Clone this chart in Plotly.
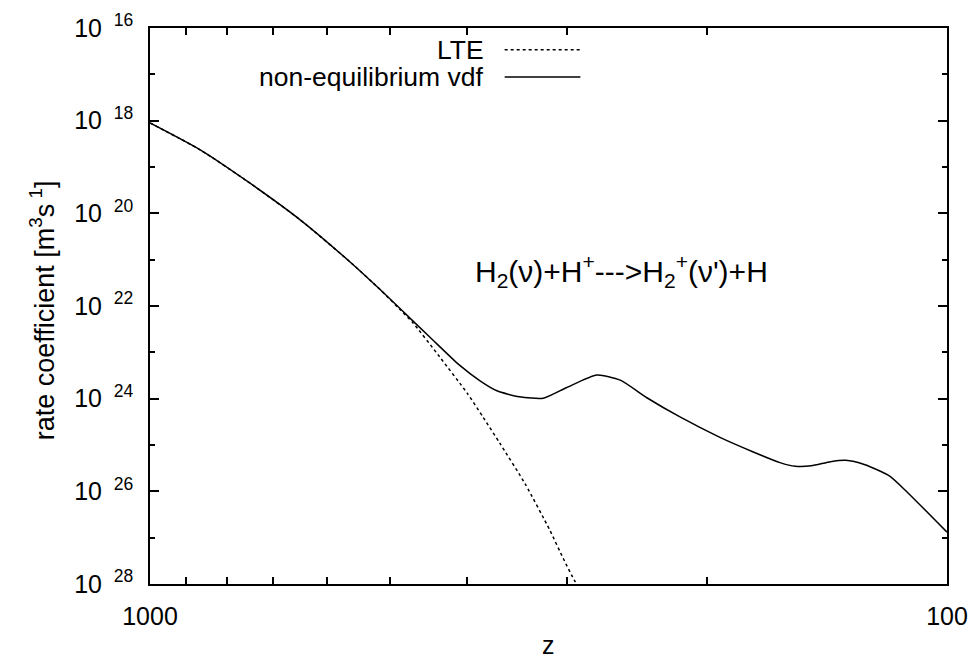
import plotly.graph_objects as go

# ---- data ----
z_noneq = [1000, 865, 749, 648, 561, 514, 486, 445, 410, 385, 367, 344,
           321, 300, 275, 257, 238, 216, 193, 175, 162, 155, 148, 140, 134, 127, 118, 112, 100]
log_noneq = [-18.05, -18.63, -19.35, -20.14, -21.05, -21.65, -22.05, -22.68, -23.26, -23.62,
             -23.83, -23.96, -23.99, -23.76, -23.49, -23.60, -23.98,
             -24.40, -24.83, -25.15, -25.38, -25.46, -25.45, -25.36, -25.33, -25.42, -25.67,
             -26.03, -26.88]

z_lte = [1000, 865, 749, 648, 561, 514, 486, 468, 433, 400, 382, 364, 338, 315, 303, 293, 291]
log_lte = [-18.05, -18.63, -19.35, -20.14, -21.05, -21.65, -22.07, -22.36, -23.10, -23.88,
           -24.40, -24.96, -25.85, -26.84, -27.45, -27.94, -28.0]

y_major = [1e-16, 1e-18, 1e-20, 1e-22, 1e-24, 1e-26, 1e-28]
y_major_text = ["10 <sup> 16</sup>", "10 <sup> 18</sup>", "10 <sup> 20</sup>", "10 <sup> 22</sup>",
                "10 <sup> 24</sup>", "10 <sup> 26</sup>", "10 <sup> 28</sup>"]
y_minor = [1e-17, 1e-19, 1e-21, 1e-23, 1e-25, 1e-27]
x_major = [1000, 100]
x_major_text = ["1000", "100"]
x_minor = [900, 800, 700, 600, 500, 400, 300, 200]

legend_names = ["LTE", "non-equilibrium vdf"]
y_title = "rate coefficient [m<sup>3</sup>s<sup> 1</sup>]"
x_title = "z"
reaction = "H<sub>2</sub>(ν)+H<sup>+</sup>--->H<sub>2</sub><sup>+</sup>(ν')+H"

y_noneq = [10 ** v for v in log_noneq]
y_lte = [10 ** v for v in log_lte]

FONT = "Liberation Sans, Arial, Helvetica, sans-serif"

fig = go.Figure()
fig.add_trace(go.Scatter(x=z_lte, y=y_lte, mode="lines", name=legend_names[0],
                         line=dict(color="black", width=1.5, dash="dot", shape="spline", smoothing=0.6)))
fig.add_trace(go.Scatter(x=z_noneq, y=y_noneq, mode="lines", name=legend_names[1],
                         line=dict(color="black", width=1.5, shape="spline", smoothing=0.6)))

axis_common = dict(showline=True, linecolor="black", linewidth=1.5, mirror="allticks",
                   ticks="inside", tickcolor="black", tickwidth=1.5, showgrid=False,
                   zeroline=False, automargin=False,
                   tickfont=dict(family=FONT, size=25, color="black"))

fig.update_xaxes(type="log", range=[3, 2], tickmode="array", tickvals=x_major,
                 ticktext=x_major_text, ticklen=9, ticklabelstandoff=9,
                 minor=dict(tickmode="array", tickvals=x_minor, ticks="inside", ticklen=7,
                            tickcolor="black", tickwidth=1.5),
                 **axis_common)
fig.update_yaxes(type="log", range=[-28, -16], tickmode="array", tickvals=y_major,
                 ticktext=y_major_text, ticklen=9, ticklabelstandoff=10,
                 minor=dict(tickmode="array", tickvals=y_minor, ticks="inside", ticklen=5,
                            tickcolor="black", tickwidth=1.5),
                 **axis_common)

# axis titles as annotations (placed like the reference)
fig.add_annotation(x=-0.135, y=0.493, xref="paper", yref="paper", text=y_title,
                   textangle=-90, showarrow=False, xanchor="center", yanchor="middle",
                   font=dict(family=FONT, size=27, color="black"))
fig.add_annotation(x=0.4995, y=-0.110, xref="paper", yref="paper", text=x_title,
                   showarrow=False, xanchor="center", yanchor="middle",
                   font=dict(family=FONT, size=25, color="black"))

# gnuplot-style key: right-aligned text with sample line on the right
key_rows = [(0.961, "dot"), (0.912, "solid")]
for name, (yy, dash) in zip(legend_names, key_rows):
    fig.add_annotation(x=0.422, y=yy, xref="paper", yref="paper", text=name, showarrow=False,
                       xanchor="right", yanchor="middle",
                       font=dict(family=FONT, size=26.5, color="black"))
    fig.add_shape(type="line", xref="paper", yref="paper", x0=0.445, x1=0.540, y0=yy, y1=yy,
                  line=dict(color="black", width=1.5, dash=dash))

fig.add_annotation(x=0.592, y=0.563, xref="paper", yref="paper", text=reaction,
                   showarrow=False, xanchor="center", yanchor="middle",
                   font=dict(family=FONT, size=30, color="black"))

fig.update_layout(width=978, height=662, margin=dict(l=150, r=31, t=28, b=78),
                  paper_bgcolor="white", plot_bgcolor="white", showlegend=False)

fig.write_html("out.html")
